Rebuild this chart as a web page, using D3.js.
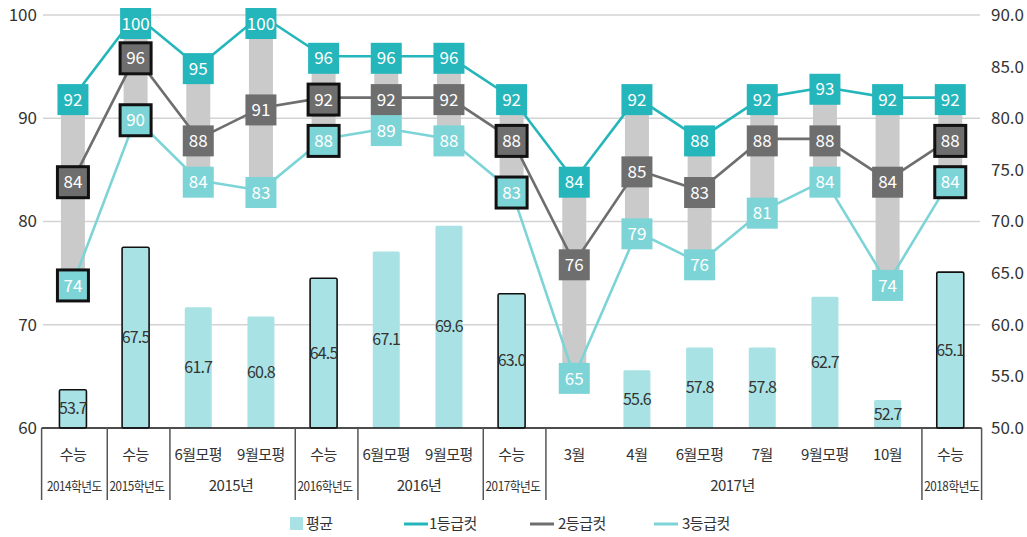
<!DOCTYPE html>
<html>
<head>
<meta charset="utf-8">
<script src="https://cdn.jsdelivr.net/npm/d3@7"></script>
<style>
  body { margin: 0; background: #fff; }
  svg { font-family: "Noto Sans CJK KR", "Noto Sans", sans-serif; }
</style>
</head>
<body>
<svg id="chart" width="1027" height="537"></svg>
<script>
// exam rounds (first row of the category axis)
const rounds = ['수능', '수능', '6월모평', '9월모평', '수능', '6월모평', '9월모평', '수능',
  '3월', '4월', '6월모평', '7월', '9월모평', '10월', '수능'];
// second row: group labels and how many rounds each covers
const groupLabels = ['2014학년도', '2015학년도', '2015년', '2016학년도', '2016년', '2017학년도', '2017년', '2018학년도'];
const groupSizes = [1, 1, 2, 1, 2, 1, 6, 1];

// average score (right axis), no value for 3월
const average = [53.7, 67.5, 61.7, 60.8, 64.5, 67.1, 69.6, 63.0, null, 55.6, 57.8, 57.8, 62.7, 52.7, 65.1];
// grade cut lines (left axis)
const cut1 = [92, 100, 95, 100, 96, 96, 96, 92, 84, 92, 88, 92, 93, 92, 92];
const cut2 = [84, 96, 88, 91, 92, 92, 92, 88, 76, 85, 83, 88, 88, 84, 88];
const cut3 = [74, 90, 84, 83, 88, 89, 88, 83, 65, 79, 76, 81, 84, 74, 84];

const leftTicks = [60, 70, 80, 90, 100];
const rightTicks = [50, 55, 60, 65, 70, 75, 80, 85, 90];
const legendLabels = ['평균', '1등급컷', '2등급컷', '3등급컷'];

const colors = { avg: '#a9e2e4', c1: '#25b6bb', c2: '#6e6e6e', c3: '#7dd4d7', range: '#c9cac9' };

const svg = d3.select('#chart');
const plot = { left: 41.6, right: 981.6, top: 15, bottom: 428 };

const x = d3.scaleBand().domain(d3.range(rounds.length)).range([plot.left, plot.right]);
const cx = i => x(i) + x.bandwidth() / 2;
const yL = d3.scaleLinear().domain([60, 100]).range([plot.bottom, plot.top]);
const yR = d3.scaleLinear().domain([50, 90]).range([plot.bottom, plot.top]);
const isSuneung = i => rounds[i] === '수능';

// gridlines
svg.append('g')
  .selectAll('line')
  .data(leftTicks.filter(t => t > 60))
  .enter()
  .append('line')
  .attr('x1', 43).attr('x2', 980)
  .attr('y1', d => yL(d)).attr('y2', d => yL(d))
  .attr('stroke', '#d3d3d3')
  .attr('stroke-width', 1.5);

// left axis
const leftAxis = svg.append('g')
  .attr('transform', 'translate(37,0)')
  .call(d3.axisLeft(yL).tickValues(leftTicks).tickSize(0).tickPadding(0));
leftAxis.select('.domain').remove();
leftAxis.selectAll('text')
  .attr('font-size', 17).attr('fill', '#333')
  .style('font-family', '"Noto Sans CJK KR", sans-serif');

// right axis
const rightAxis = svg.append('g')
  .attr('transform', 'translate(991,0)')
  .call(d3.axisRight(yR).tickValues(rightTicks).tickFormat(d3.format('.1f')).tickSize(0).tickPadding(0));
rightAxis.select('.domain').remove();
rightAxis.selectAll('text')
  .attr('font-size', 17).attr('fill', '#333')
  .style('font-family', '"Noto Sans CJK KR", sans-serif');

// average bars
const avgData = average.map((v, i) => ({ v, i })).filter(d => d.v != null);
const barW = 27;

svg.append('g')
  .selectAll('rect')
  .data(avgData)
  .enter()
  .append('rect')
  .attr('x', d => cx(d.i) - barW / 2)
  .attr('y', d => yR(d.v))
  .attr('width', barW)
  .attr('height', d => plot.bottom - yR(d.v))
  .attr('rx', 1.5)
  .attr('fill', colors.avg)
  .attr('stroke', d => isSuneung(d.i) ? '#111' : 'none')
  .attr('stroke-width', 1.6);

svg.append('g')
  .selectAll('text')
  .data(avgData)
  .enter()
  .append('text')
  .text(d => d.v.toFixed(1))
  .attr('x', d => cx(d.i))
  .attr('y', d => (yR(d.v) + plot.bottom) / 2)
  .attr('dy', '0.35em')
  .attr('text-anchor', 'middle')
  .attr('font-size', 16)
  .attr('letter-spacing', -0.8)
  .attr('fill', '#333');

// range bars between 3등급 and 1등급
svg.append('g')
  .selectAll('rect')
  .data(cut1)
  .enter()
  .append('rect')
  .attr('x', (d, i) => cx(i) - 12)
  .attr('y', (d, i) => yL(Math.max(d, cut3[i])))
  .attr('width', 24)
  .attr('height', (d, i) => Math.abs(yL(cut3[i]) - yL(d)))
  .attr('fill', colors.range);

// cut lines
const series = [
  { values: cut3, color: colors.c3, boxed: true },
  { values: cut2, color: colors.c2, boxed: true },
  { values: cut1, color: colors.c1, boxed: false }
];

const line = d3.line().x((d, i) => cx(i)).y(d => yL(d));

series.forEach(s => {
  svg.append('path')
    .datum(s.values)
    .attr('d', line)
    .attr('fill', 'none')
    .attr('stroke', s.color)
    .attr('stroke-width', 2.6);
});

// value labels (filled boxes)
const box = 31;
const labelY = v => Math.max(yL(v) + 2, 8 + box / 2);

series.forEach(s => {
  const g = svg.append('g')
    .selectAll('g')
    .data(s.values)
    .enter()
    .append('g')
    .attr('transform', (d, i) => `translate(${cx(i)},${labelY(d)})`);

  g.append('rect')
    .attr('x', -box / 2).attr('y', -box / 2)
    .attr('width', box).attr('height', box)
    .attr('fill', s.color)
    .attr('stroke', (d, i) => s.boxed && isSuneung(i) ? '#111' : 'none')
    .attr('stroke-width', 3);

  g.append('text')
    .text(d => d)
    .attr('text-anchor', 'middle')
    .attr('dy', '0.36em')
    .attr('font-size', 17)
    .attr('fill', '#fff');
});

// category axis
svg.append('line')
  .attr('x1', plot.left).attr('x2', plot.right)
  .attr('y1', plot.bottom).attr('y2', plot.bottom)
  .attr('stroke', '#111')
  .attr('stroke-width', 1.5);

svg.append('g')
  .selectAll('text')
  .data(rounds)
  .enter()
  .append('text')
  .text(d => d)
  .attr('x', (d, i) => cx(i))
  .attr('y', 455)
  .attr('dy', '0.35em')
  .attr('text-anchor', 'middle')
  .attr('font-size', 15)
  .attr('letter-spacing', -0.5)
  .attr('fill', '#333');

// group boundaries and labels
const starts = [0];
groupSizes.forEach(n => starts.push(starts[starts.length - 1] + n));

svg.append('g')
  .selectAll('line')
  .data(starts)
  .enter()
  .append('line')
  .attr('x1', (d, k) => (d === rounds.length ? plot.right : x(d)) + (k > 0 && k < starts.length - 1 ? 3 : 0))
  .attr('x2', (d, k) => (d === rounds.length ? plot.right : x(d)) + (k > 0 && k < starts.length - 1 ? 3 : 0))
  .attr('y1', plot.bottom).attr('y2', 500)
  .attr('stroke', '#555')
  .attr('stroke-width', 1.5);

svg.append('g')
  .selectAll('text')
  .data(groupLabels)
  .enter()
  .append('text')
  .text(d => d)
  .attr('x', (d, k) => (x(starts[k]) + x(starts[k + 1] - 1) + x.bandwidth()) / 2 + 1.5)
  .attr('y', 486)
  .attr('dy', '0.35em')
  .attr('text-anchor', 'middle')
  .attr('font-size', (d, k) => groupSizes[k] === 1 ? 13 : 15)
  .attr('letter-spacing', -0.5)
  .attr('fill', '#333')
  .each(function (d, k) {
    if (groupSizes[k] === 1) {
      d3.select(this).attr('textLength', 55).attr('lengthAdjust', 'spacingAndGlyphs');
    }
  });

// legend
const legendX = [290, 404, 530, 654];
const legendColors = [colors.avg, colors.c1, colors.c2, colors.c3];
const legend = svg.append('g')
  .selectAll('g')
  .data(legendLabels)
  .enter()
  .append('g')
  .attr('transform', (d, i) => `translate(${legendX[i]},524)`);

legend.each(function (d, i) {
  const g = d3.select(this);
  if (i === 0) {
    g.append('rect').attr('x', 0).attr('y', -7).attr('width', 13).attr('height', 13).attr('fill', legendColors[i]);
  } else {
    g.append('line').attr('x1', 0).attr('x2', 24).attr('y1', 0).attr('y2', 0)
      .attr('stroke', legendColors[i]).attr('stroke-width', 3);
  }
  g.append('text')
    .text(d)
    .attr('x', i === 0 ? 16 : (i === 1 ? 25 : 28))
    .attr('dy', '0.35em')
    .attr('font-size', 15)
    .attr('letter-spacing', -0.5)
    .attr('fill', '#333');
});
</script>
</body>
</html>
